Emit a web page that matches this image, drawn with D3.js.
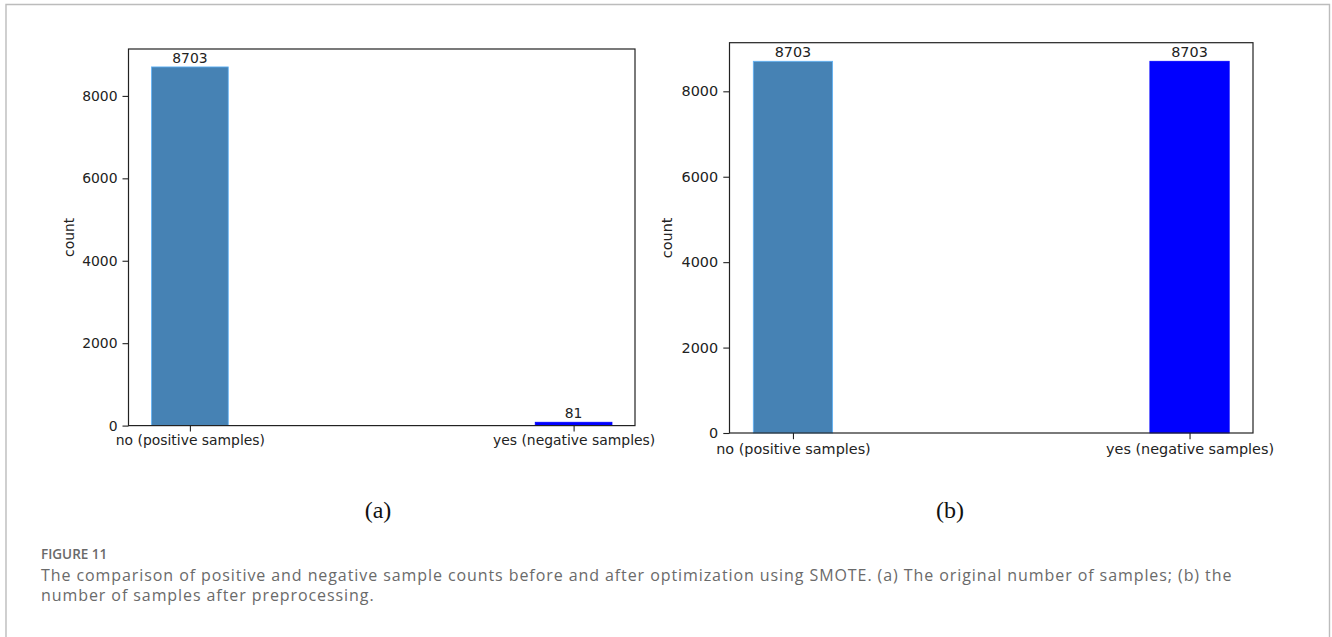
<!DOCTYPE html>
<html>
<head>
<meta charset="utf-8">
<script src="https://cdn.jsdelivr.net/npm/d3@7"></script>
<style>
  body { margin: 0; background: #fff; }
  svg { display: block; }
</style>
</head>
<body>
<div id="chart"></div>
<script>
// data
const categories = ['no (positive samples)', 'yes (negative samples)'];
const countsBefore = [8703, 81];
const countsAfter = [8703, 8703];
const barColors = ['#4682b4', '#0000ff'];
const yTicks = [0, 2000, 4000, 6000, 8000];
const panelLabels = ['(a)', '(b)'];
const captionTitle = 'FIGURE 11';
const captionLines = [
  'The comparison of positive and negative sample counts before and after optimization using SMOTE. (a) The original number of samples; (b) the',
  'number of samples after preprocessing.'
];

const W = 1332, H = 637;
const svg = d3.select('#chart').append('svg')
    .attr('width', W)
    .attr('height', H);

// outer figure frame
svg.append('path')
    .attr('d', `M6,${H + 2}V4.5H1329.5V${H + 2}`)
    .attr('fill', 'none')
    .attr('stroke', '#bcbcbc')
    .attr('stroke-width', 1.4);

// two panels, same matplotlib figure drawn at slightly different scales
const panels = [
  {values: countsBefore, x0: 128.5, x1: 635, y0: 425.6, y1: 49, fs: 13.9, k: 1, labelX: 378},
  {values: countsAfter, x0: 729.5, x1: 1253, y0: 433, y1: 42.7, fs: 14.4, k: 1.034, labelX: 950}
];

const font = '"DejaVu Sans", sans-serif';

panels.forEach((p, i) => {
  const k = p.k;
  const barW = 0.2;
  const x = d3.scaleLinear()
    .domain([-barW / 2 - 0.06, 1 + barW / 2 + 0.06])
    .range([p.x0, p.x1]);
  const y = d3.scaleLinear()
    .domain([0, d3.max(p.values) * 1.05])
    .range([p.y0, p.y1]);

  const g = svg.append('g');

  // bars
  g.selectAll('rect.bar')
    .data(p.values)
    .enter().append('rect')
      .attr('class', 'bar')
      .attr('x', (d, j) => x(j - barW / 2))
      .attr('width', (d, j) => x(j + barW / 2) - x(j - barW / 2))
      .attr('y', d => y(d))
      .attr('height', d => y(0) - y(d))
      .attr('fill', (d, j) => barColors[j])
      .attr('stroke', (d, j) => d3.color(barColors[j]).brighter(0.9))
      .attr('stroke-width', 0.8);

  // value labels
  g.selectAll('text.val')
    .data(p.values)
    .enter().append('text')
      .attr('class', 'val')
      .attr('x', (d, j) => x(j))
      .attr('y', d => y(d) - 4 * k)
      .attr('text-anchor', 'middle')
      .attr('font-family', font)
      .attr('font-size', p.fs)
      .attr('fill', '#222')
      .text(d => d);

  // y axis
  const yAxis = d3.axisLeft(y)
    .tickValues(yTicks)
    .tickSize(6 * k)
    .tickPadding(5 * k)
    .tickFormat(d3.format('d'));
  const ya = g.append('g')
      .attr('transform', `translate(${p.x0},0)`)
      .call(yAxis);
  ya.select('.domain').remove();

  // x axis
  const xAxis = d3.axisBottom(x)
    .tickValues([0, 1])
    .tickSize(6 * k)
    .tickPadding(4 * k)
    .tickFormat(j => categories[j]);
  const xa = g.append('g')
      .attr('transform', `translate(0,${p.y0})`)
      .call(xAxis);
  xa.select('.domain').remove();

  [ya, xa].forEach(a => {
    a.selectAll('text')
      .attr('font-family', font)
      .attr('font-size', p.fs)
      .attr('fill', '#222');
    a.selectAll('line')
      .attr('stroke', '#222')
      .attr('stroke-width', 1.1);
  });

  // frame
  g.append('rect')
      .attr('x', p.x0)
      .attr('y', p.y1)
      .attr('width', p.x1 - p.x0)
      .attr('height', p.y0 - p.y1)
      .attr('fill', 'none')
      .attr('stroke', '#222')
      .attr('stroke-width', 1.2);

  // y label
  g.append('text')
      .attr('transform', `translate(${p.x0 - 60 * k},${(p.y0 + p.y1) / 2}) rotate(-90)`)
      .attr('text-anchor', 'middle')
      .attr('dominant-baseline', 'central')
      .attr('font-family', font)
      .attr('font-size', p.fs)
      .attr('fill', '#222')
      .text('count');

  // panel label
  svg.append('text')
      .attr('x', p.labelX)
      .attr('y', 518)
      .attr('text-anchor', 'middle')
      .attr('font-family', '"Liberation Serif", "Times New Roman", serif')
      .attr('font-size', 24)
      .attr('fill', '#111')
      .text(panelLabels[i]);
});

// caption
svg.append('text')
    .attr('x', 41)
    .attr('y', 559)
    .attr('font-family', '"Open Sans", sans-serif')
    .attr('font-weight', 600)
    .attr('font-size', 13.5)
    .attr('fill', '#6a6a6a')
    .text(captionTitle);

svg.selectAll('text.cap')
  .data(captionLines)
  .enter().append('text')
    .attr('class', 'cap')
    .attr('x', 41)
    .attr('y', (d, i) => 581 + i * 20)
    .attr('font-family', '"Open Sans", sans-serif')
    .attr('font-size', 16)
    .attr('letter-spacing', 0.92)
    .attr('fill', '#6a6a6a')
    .text(d => d);
</script>
</body>
</html>
